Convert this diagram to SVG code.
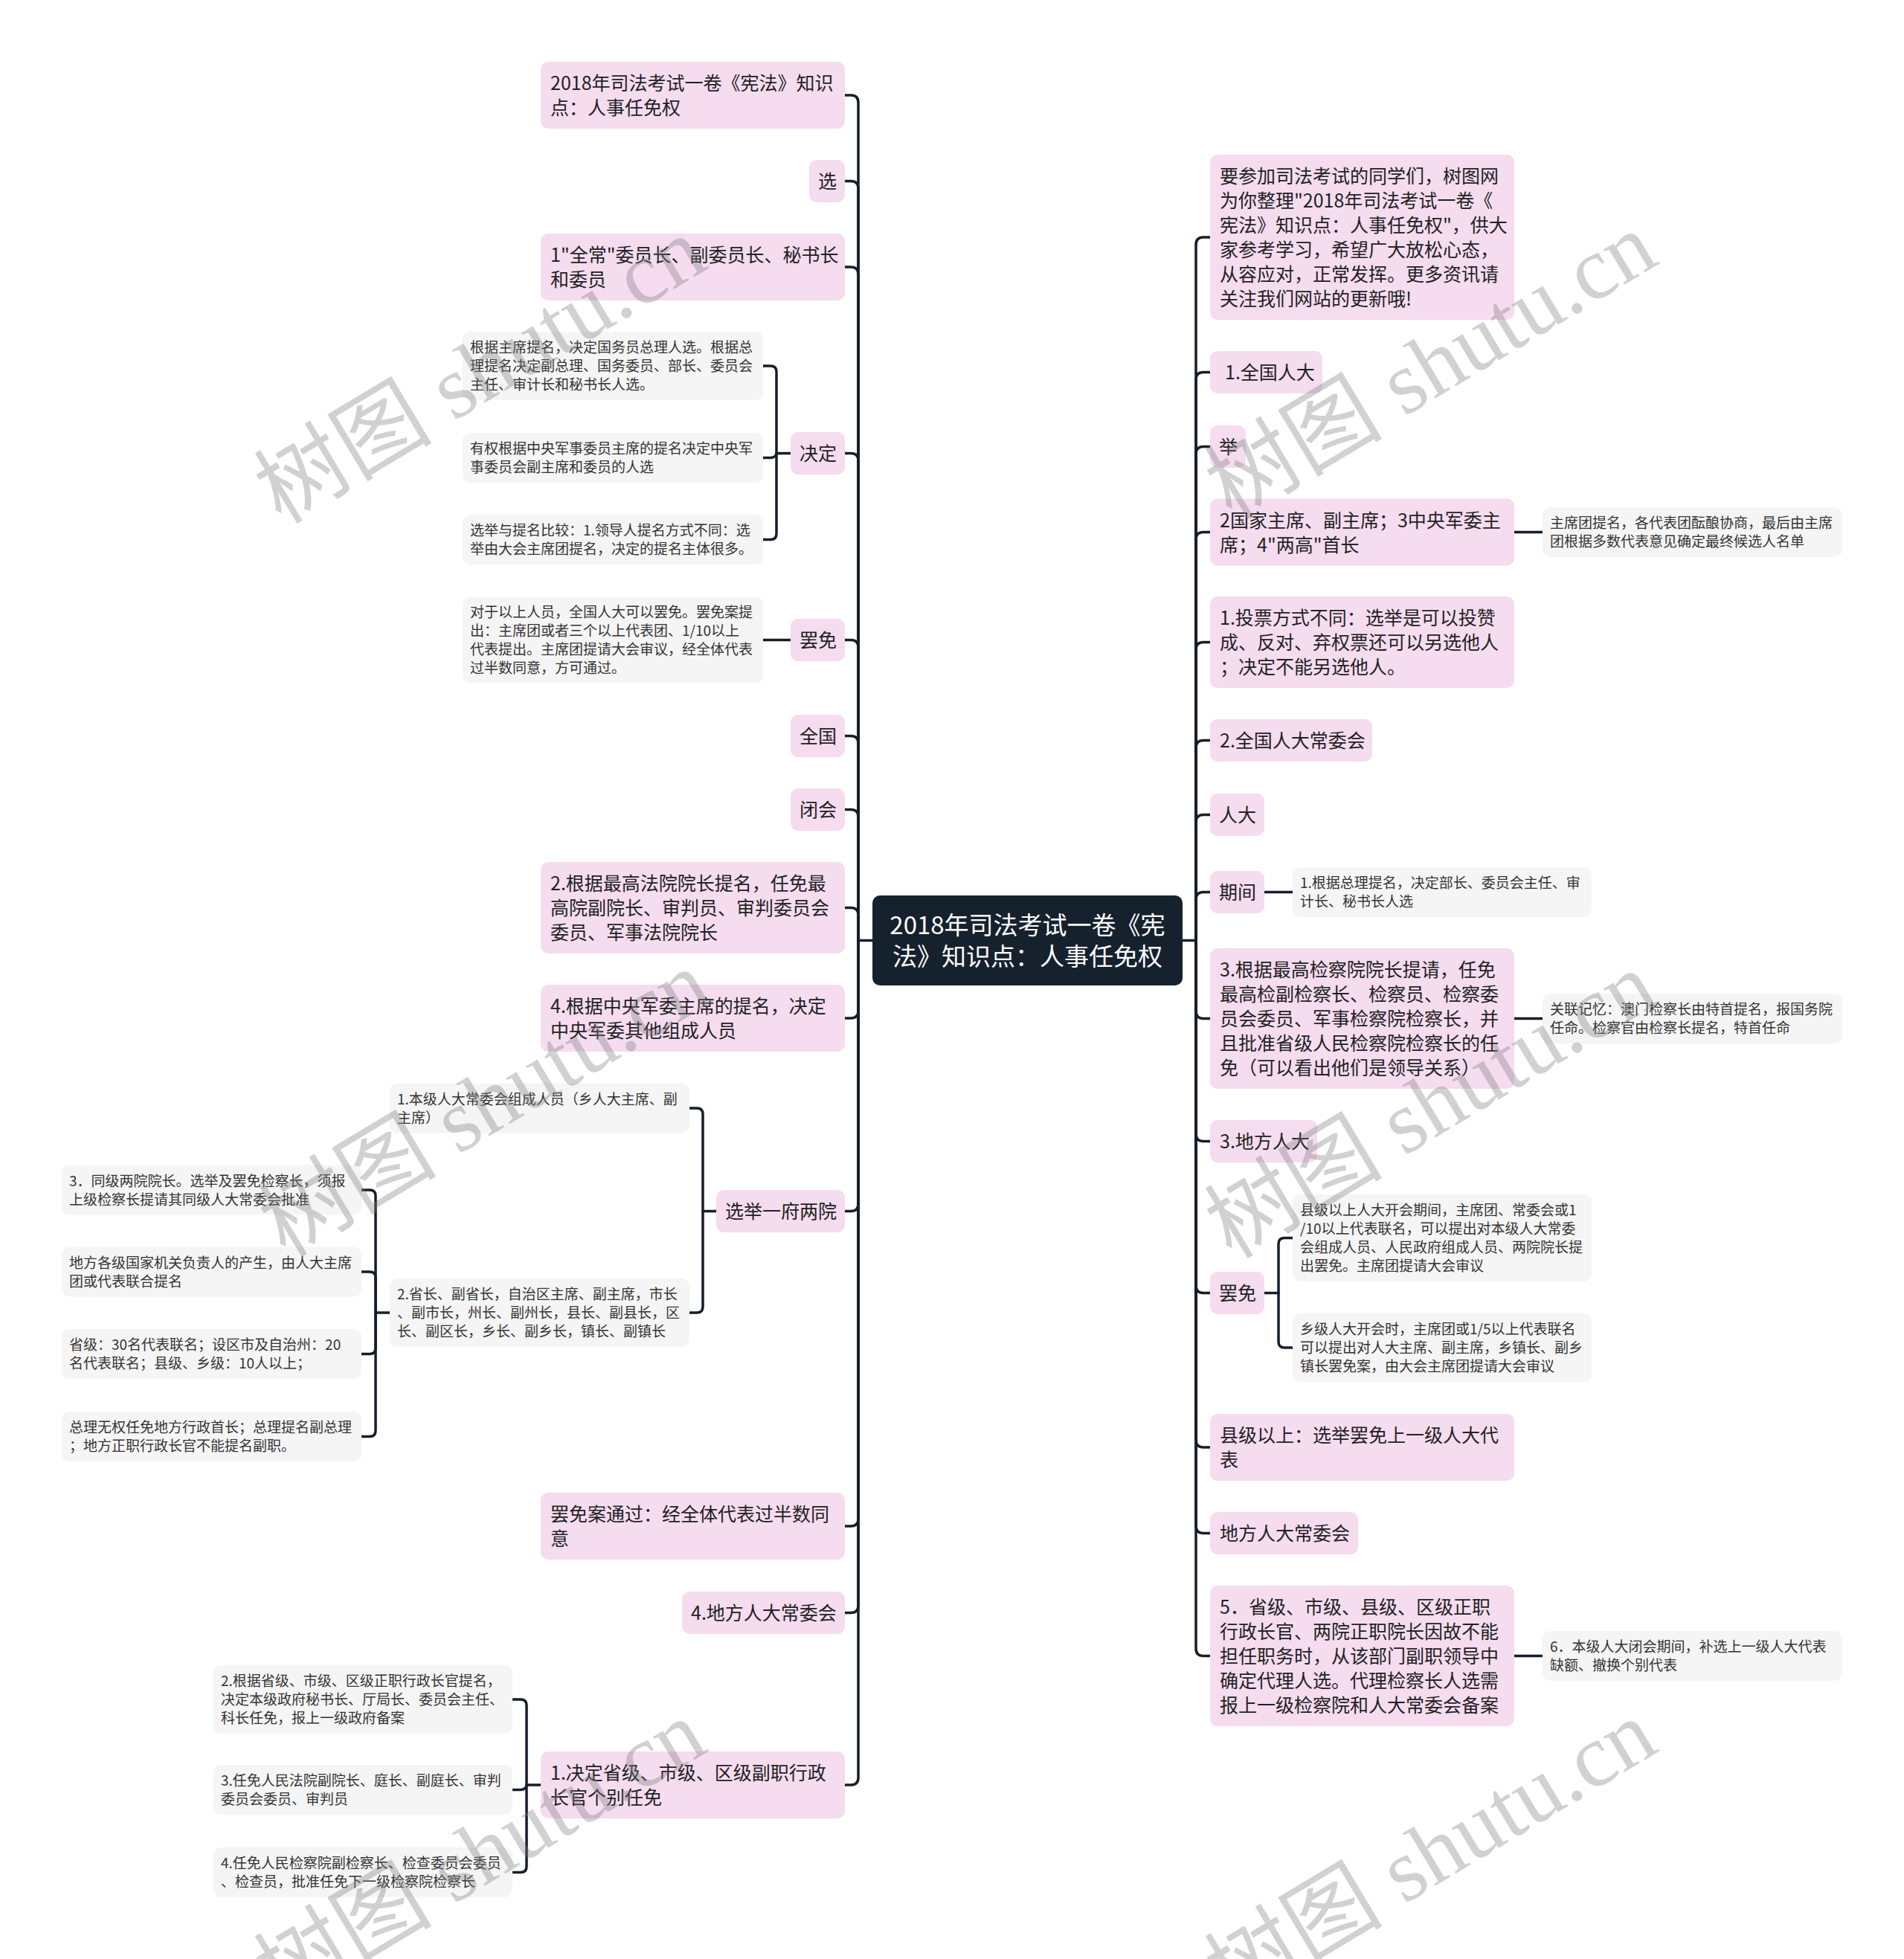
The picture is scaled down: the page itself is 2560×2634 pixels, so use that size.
<svg xmlns="http://www.w3.org/2000/svg" width="2560" height="2634" viewBox="0 0 2560 2634">
<style>
.p{fill:#f5dcef}
.g{fill:#f5f5f5}
.root{fill:#16212e}
.tp{font-family:"Noto Sans CJK SC","Noto Sans",sans-serif;font-size:25px;fill:#222}
.tg{font-family:"Noto Sans CJK SC","Noto Sans",sans-serif;font-size:19px;fill:#333}
.tr{font-family:"Noto Sans CJK SC","Noto Sans",sans-serif;font-size:33px;fill:#ffffff;text-anchor:middle}
.c path{fill:none;stroke:#161e2b;stroke-width:3.5;stroke-linecap:round;stroke-linejoin:round}
.wm{font-family:"Liberation Serif","Noto Sans CJK SC",serif;font-size:120px;fill:#808080;fill-opacity:0.36}
</style>
<rect width="2560" height="2634" fill="#ffffff"/>
<g class="c" id="connectors">
<path d="M1173,1264.5 H1154 V138 Q1154,128 1144,128 H1136"/>
<path d="M1154,1264.5 V253.5 Q1154,243.5 1144,243.5 H1136"/>
<path d="M1154,1264.5 V369 Q1154,359 1144,359 H1136"/>
<path d="M1154,1264.5 V619.5 Q1154,609.5 1144,609.5 H1136"/>
<path d="M1154,1264.5 V870.5 Q1154,860.5 1144,860.5 H1136"/>
<path d="M1154,1264.5 V999.5 Q1154,989.5 1144,989.5 H1136"/>
<path d="M1154,1264.5 V1098.5 Q1154,1088.5 1144,1088.5 H1136"/>
<path d="M1154,1264.5 V1230.5 Q1154,1220.5 1144,1220.5 H1136"/>
<path d="M1154,1264.5 V1359 Q1154,1369 1144,1369 H1136"/>
<path d="M1154,1264.5 V1618.5 Q1154,1628.5 1144,1628.5 H1136"/>
<path d="M1154,1264.5 V2042 Q1154,2052 1144,2052 H1136"/>
<path d="M1154,1264.5 V2158.5 Q1154,2168.5 1144,2168.5 H1136"/>
<path d="M1154,1264.5 V2390 Q1154,2400 1144,2400 H1136"/>
<path d="M1590,1264.5 H1608 V329 Q1608,319 1618,319 H1627"/>
<path d="M1608,1264.5 V510.5 Q1608,500.5 1618,500.5 H1627"/>
<path d="M1608,1264.5 V610.5 Q1608,600.5 1618,600.5 H1627"/>
<path d="M1608,1264.5 V725.5 Q1608,715.5 1618,715.5 H1627"/>
<path d="M1608,1264.5 V873.5 Q1608,863.5 1618,863.5 H1627"/>
<path d="M1608,1264.5 V1005.5 Q1608,995.5 1618,995.5 H1627"/>
<path d="M1608,1264.5 V1105.5 Q1608,1095.5 1618,1095.5 H1627"/>
<path d="M1608,1264.5 V1209.5 Q1608,1199.5 1618,1199.5 H1627"/>
<path d="M1608,1264.5 V1359.5 Q1608,1369.5 1618,1369.5 H1627"/>
<path d="M1608,1264.5 V1524.5 Q1608,1534.5 1618,1534.5 H1627"/>
<path d="M1608,1264.5 V1728.5 Q1608,1738.5 1618,1738.5 H1627"/>
<path d="M1608,1264.5 V1936 Q1608,1946 1618,1946 H1627"/>
<path d="M1608,1264.5 V2051.5 Q1608,2061.5 1618,2061.5 H1627"/>
<path d="M1608,1264.5 V2216.5 Q1608,2226.5 1618,2226.5 H1627"/>
<path d="M1063,609.5 H1044 V500 Q1044,492 1036,492 H1026"/>
<path d="M1044,609.5 C1044,613 1040,615.5 1036,615.5 H1026"/>
<path d="M1044,609.5 V717.5 Q1044,725.5 1036,725.5 H1026"/>
<path d="M1063,860.5 H1026"/>
<path d="M963,1628.5 H945 V1498 Q945,1490 937,1490 H927"/>
<path d="M945,1628.5 V1757 Q945,1765 937,1765 H927"/>
<path d="M524,1765 H505 V1608 Q505,1600 497,1600 H486"/>
<path d="M505,1765 V1718 Q505,1710 497,1710 H486"/>
<path d="M505,1765 V1812.5 Q505,1820.5 497,1820.5 H486"/>
<path d="M505,1765 V1923.5 Q505,1931.5 497,1931.5 H486"/>
<path d="M728,2400 H708 V2293 Q708,2285 700,2285 H689"/>
<path d="M708,2400 C708,2404 704,2406.5 700,2406.5 H689"/>
<path d="M708,2400 V2509.5 Q708,2517.5 700,2517.5 H689"/>
<path d="M2036,715.5 H2074"/>
<path d="M1700,1199.5 H1738"/>
<path d="M2036,1369.5 H2074"/>
<path d="M1700,1738.5 H1719 V1672.5 Q1719,1664.5 1727,1664.5 H1738"/>
<path d="M1719,1738.5 V1804 Q1719,1812 1727,1812 H1738"/>
<path d="M2036,2226.5 H2074"/>
</g>
<g id="root"><rect class="root" x="1173" y="1204" width="417" height="121" rx="10"/><text class="tr"><tspan x="1381.5" y="1256">2018年司法考试一卷《宪</tspan><tspan x="1381.5" y="1298">法》知识点：人事任免权</tspan></text></g>
<g id="L1"><rect class="p" x="727" y="83" width="409" height="90" rx="10"/><text class="tp"><tspan x="740" y="121">2018年司法考试一卷《宪法》知识</tspan><tspan x="740" y="154">点：人事任免权</tspan></text></g>
<g id="L2"><rect class="p" x="1088" y="215" width="48" height="57" rx="10"/><text class="tp" x="1100" y="253">选</text></g>
<g id="L3"><rect class="p" x="727" y="314" width="409" height="90" rx="10"/><text class="tp"><tspan x="740" y="352">1"全常"委员长、副委员长、秘书长</tspan><tspan x="740" y="385">和委员</tspan></text></g>
<g id="L4"><rect class="p" x="1063" y="581" width="73" height="57" rx="10"/><text class="tp" x="1075" y="619">决定</text></g>
<g id="L4a"><rect class="g" x="622" y="446" width="404" height="92" rx="10"/><text class="tg"><tspan x="632" y="474">根据主席提名，决定国务员总理人选。根据总</tspan><tspan x="632" y="499">理提名决定副总理、国务委员、部长、委员会</tspan><tspan x="632" y="524">主任、审计长和秘书长人选。</tspan></text></g>
<g id="L4b"><rect class="g" x="622" y="582" width="404" height="67" rx="10"/><text class="tg"><tspan x="632" y="610">有权根据中央军事委员主席的提名决定中央军</tspan><tspan x="632" y="635">事委员会副主席和委员的人选</tspan></text></g>
<g id="L4c"><rect class="g" x="622" y="692" width="404" height="67" rx="10"/><text class="tg"><tspan x="632" y="720">选举与提名比较：1.领导人提名方式不同：选</tspan><tspan x="632" y="745">举由大会主席团提名，决定的提名主体很多。</tspan></text></g>
<g id="L5"><rect class="p" x="1063" y="832" width="73" height="57" rx="10"/><text class="tp" x="1075" y="870">罢免</text></g>
<g id="L5a"><rect class="g" x="622" y="802.5" width="404" height="116" rx="10"/><text class="tg"><tspan x="632" y="830">对于以上人员，全国人大可以罢免。罢免案提</tspan><tspan x="632" y="855">出：主席团或者三个以上代表团、1/10以上</tspan><tspan x="632" y="880">代表提出。主席团提请大会审议，经全体代表</tspan><tspan x="632" y="905">过半数同意，方可通过。</tspan></text></g>
<g id="L6"><rect class="p" x="1063" y="961" width="73" height="57" rx="10"/><text class="tp" x="1075" y="999">全国</text></g>
<g id="L7"><rect class="p" x="1063" y="1060" width="73" height="57" rx="10"/><text class="tp" x="1075" y="1098">闭会</text></g>
<g id="L8"><rect class="p" x="727" y="1159" width="409" height="123" rx="10"/><text class="tp"><tspan x="740" y="1197">2.根据最高法院院长提名，任免最</tspan><tspan x="740" y="1230">高院副院长、审判员、审判委员会</tspan><tspan x="740" y="1263">委员、军事法院院长</tspan></text></g>
<g id="L9"><rect class="p" x="727" y="1324" width="409" height="90" rx="10"/><text class="tp"><tspan x="740" y="1362">4.根据中央军委主席的提名，决定</tspan><tspan x="740" y="1395">中央军委其他组成人员</tspan></text></g>
<g id="L10"><rect class="p" x="963" y="1600" width="173" height="57" rx="10"/><text class="tp" x="975" y="1638">选举一府两院</text></g>
<g id="L10a"><rect class="g" x="524" y="1456.5" width="403" height="67" rx="10"/><text class="tg"><tspan x="534" y="1484.5">1.本级人大常委会组成人员（乡人大主席、副</tspan><tspan x="534" y="1509.5">主席）</tspan></text></g>
<g id="L10b"><rect class="g" x="524" y="1719" width="403" height="92" rx="10"/><text class="tg"><tspan x="534" y="1747">2.省长、副省长，自治区主席、副主席，市长</tspan><tspan x="534" y="1772">、副市长，州长、副州长，县长、副县长，区</tspan><tspan x="534" y="1797">长、副区长，乡长、副乡长，镇长、副镇长</tspan></text></g>
<g id="L10b1"><rect class="g" x="83" y="1566.5" width="403" height="67" rx="10"/><text class="tg"><tspan x="93" y="1594.5">3．同级两院院长。选举及罢免检察长，须报</tspan><tspan x="93" y="1619.5">上级检察长提请其同级人大常委会批准</tspan></text></g>
<g id="L10b2"><rect class="g" x="83" y="1676.5" width="403" height="67" rx="10"/><text class="tg"><tspan x="93" y="1704.5">地方各级国家机关负责人的产生，由人大主席</tspan><tspan x="93" y="1729.5">团或代表联合提名</tspan></text></g>
<g id="L10b3"><rect class="g" x="83" y="1787" width="403" height="67" rx="10"/><text class="tg"><tspan x="93" y="1815">省级：30名代表联名；设区市及自治州：20</tspan><tspan x="93" y="1840">名代表联名；县级、乡级：10人以上；</tspan></text></g>
<g id="L10b4"><rect class="g" x="83" y="1898" width="403" height="67" rx="10"/><text class="tg"><tspan x="93" y="1926">总理无权任免地方行政首长；总理提名副总理</tspan><tspan x="93" y="1951">；地方正职行政长官不能提名副职。</tspan></text></g>
<g id="L11"><rect class="p" x="727" y="2007" width="409" height="90" rx="10"/><text class="tp"><tspan x="740" y="2045">罢免案通过：经全体代表过半数同</tspan><tspan x="740" y="2078">意</tspan></text></g>
<g id="L12"><rect class="p" x="917" y="2140" width="219" height="57" rx="10"/><text class="tp" x="929" y="2178">4.地方人大常委会</text></g>
<g id="L13"><rect class="p" x="727" y="2355" width="409" height="90" rx="10"/><text class="tp"><tspan x="740" y="2393">1.决定省级、市级、区级副职行政</tspan><tspan x="740" y="2426">长官个别任免</tspan></text></g>
<g id="L13a"><rect class="g" x="287" y="2239" width="402" height="92" rx="10"/><text class="tg"><tspan x="297" y="2267">2.根据省级、市级、区级正职行政长官提名，</tspan><tspan x="297" y="2292">决定本级政府秘书长、厅局长、委员会主任、</tspan><tspan x="297" y="2317">科长任免，报上一级政府备案</tspan></text></g>
<g id="L13b"><rect class="g" x="287" y="2373" width="402" height="67" rx="10"/><text class="tg"><tspan x="297" y="2401">3.任免人民法院副院长、庭长、副庭长、审判</tspan><tspan x="297" y="2426">委员会委员、审判员</tspan></text></g>
<g id="L13c"><rect class="g" x="287" y="2484" width="402" height="67" rx="10"/><text class="tg"><tspan x="297" y="2512">4.任免人民检察院副检察长、检查委员会委员</tspan><tspan x="297" y="2537">、检查员，批准任免下一级检察院检察长</tspan></text></g>
<g id="R1"><rect class="p" x="1627" y="208" width="409" height="222" rx="10"/><text class="tp"><tspan x="1640" y="246">要参加司法考试的同学们，树图网</tspan><tspan x="1640" y="279">为你整理"2018年司法考试一卷《</tspan><tspan x="1640" y="312">宪法》知识点：人事任免权"，供大</tspan><tspan x="1640" y="345">家参考学习，希望广大放松心态，</tspan><tspan x="1640" y="378">从容应对，正常发挥。更多资讯请</tspan><tspan x="1640" y="411">关注我们网站的更新哦!</tspan></text></g>
<g id="R2"><rect class="p" x="1627" y="472" width="151" height="57" rx="10"/><text class="tp" x="1647" y="510">1.全国人大</text></g>
<g id="R3"><rect class="p" x="1627" y="572" width="48" height="57" rx="10"/><text class="tp" x="1639" y="610">举</text></g>
<g id="R4"><rect class="p" x="1627" y="670.5" width="409" height="90" rx="10"/><text class="tp"><tspan x="1640" y="708.5">2国家主席、副主席；3中央军委主</tspan><tspan x="1640" y="741.5">席；4"两高"首长</tspan></text></g>
<g id="R4a"><rect class="g" x="2074" y="682" width="403" height="67" rx="10"/><text class="tg"><tspan x="2084" y="710">主席团提名，各代表团酝酿协商，最后由主席</tspan><tspan x="2084" y="735">团根据多数代表意见确定最终候选人名单</tspan></text></g>
<g id="R5"><rect class="p" x="1627" y="802" width="409" height="123" rx="10"/><text class="tp"><tspan x="1640" y="840">1.投票方式不同：选举是可以投赞</tspan><tspan x="1640" y="873">成、反对、弃权票还可以另选他人</tspan><tspan x="1640" y="906">；决定不能另选他人。</tspan></text></g>
<g id="R6"><rect class="p" x="1627" y="967" width="218" height="57" rx="10"/><text class="tp" x="1640" y="1005">2.全国人大常委会</text></g>
<g id="R7"><rect class="p" x="1627" y="1067" width="73" height="57" rx="10"/><text class="tp" x="1639" y="1105">人大</text></g>
<g id="R8"><rect class="p" x="1627" y="1171" width="73" height="57" rx="10"/><text class="tp" x="1639" y="1209">期间</text></g>
<g id="R8a"><rect class="g" x="1738" y="1166" width="402" height="67" rx="10"/><text class="tg"><tspan x="1748" y="1194">1.根据总理提名，决定部长、委员会主任、审</tspan><tspan x="1748" y="1219">计长、秘书长人选</tspan></text></g>
<g id="R9"><rect class="p" x="1627" y="1275" width="409" height="189" rx="10"/><text class="tp"><tspan x="1640" y="1313">3.根据最高检察院院长提请，任免</tspan><tspan x="1640" y="1346">最高检副检察长、检察员、检察委</tspan><tspan x="1640" y="1379">员会委员、军事检察院检察长，并</tspan><tspan x="1640" y="1412">且批准省级人民检察院检察长的任</tspan><tspan x="1640" y="1445">免（可以看出他们是领导关系）</tspan></text></g>
<g id="R9a"><rect class="g" x="2074" y="1336" width="403" height="67" rx="10"/><text class="tg"><tspan x="2084" y="1364">关联记忆：澳门检察长由特首提名，报国务院</tspan><tspan x="2084" y="1389">任命。检察官由检察长提名，特首任命</tspan></text></g>
<g id="R10"><rect class="p" x="1627" y="1506" width="144" height="57" rx="10"/><text class="tp" x="1640" y="1544">3.地方人大</text></g>
<g id="R11"><rect class="p" x="1627" y="1710" width="73" height="57" rx="10"/><text class="tp" x="1639" y="1748">罢免</text></g>
<g id="R11a"><rect class="g" x="1738" y="1606" width="402" height="117" rx="10"/><text class="tg"><tspan x="1748" y="1634">县级以上人大开会期间，主席团、常委会或1</tspan><tspan x="1748" y="1659">/10以上代表联名，可以提出对本级人大常委</tspan><tspan x="1748" y="1684">会组成人员、人民政府组成人员、两院院长提</tspan><tspan x="1748" y="1709">出罢免。主席团提请大会审议</tspan></text></g>
<g id="R11b"><rect class="g" x="1738" y="1766" width="402" height="92" rx="10"/><text class="tg"><tspan x="1748" y="1794">乡级人大开会时，主席团或1/5以上代表联名</tspan><tspan x="1748" y="1819">可以提出对人大主席、副主席，乡镇长、副乡</tspan><tspan x="1748" y="1844">镇长罢免案，由大会主席团提请大会审议</tspan></text></g>
<g id="R12"><rect class="p" x="1627" y="1901" width="409" height="90" rx="10"/><text class="tp"><tspan x="1640" y="1939">县级以上：选举罢免上一级人大代</tspan><tspan x="1640" y="1972">表</tspan></text></g>
<g id="R13"><rect class="p" x="1627" y="2033" width="199" height="57" rx="10"/><text class="tp" x="1640" y="2071">地方人大常委会</text></g>
<g id="R14"><rect class="p" x="1627" y="2132" width="409" height="189" rx="10"/><text class="tp"><tspan x="1640" y="2170">5．省级、市级、县级、区级正职</tspan><tspan x="1640" y="2203">行政长官、两院正职院长因故不能</tspan><tspan x="1640" y="2236">担任职务时，从该部门副职领导中</tspan><tspan x="1640" y="2269">确定代理人选。代理检察长人选需</tspan><tspan x="1640" y="2302">报上一级检察院和人大常委会备案</tspan></text></g>
<g id="R14a"><rect class="g" x="2074" y="2193" width="403" height="67" rx="10"/><text class="tg"><tspan x="2084" y="2221">6．本级人大闭会期间，补选上一级人大代表</tspan><tspan x="2084" y="2246">缺额、撤换个别代表</tspan></text></g>
<g id="watermarks">
<text class="wm" transform="translate(378,706) rotate(-31)">树图 shutu.cn</text>
<text class="wm" transform="translate(1656,700) rotate(-31)">树图 shutu.cn</text>
<text class="wm" transform="translate(384,1692) rotate(-31)">树图 shutu.cn</text>
<text class="wm" transform="translate(1656,1694) rotate(-31)">树图 shutu.cn</text>
<text class="wm" transform="translate(378,2700) rotate(-31)">树图 shutu.cn</text>
<text class="wm" transform="translate(1656,2700) rotate(-31)">树图 shutu.cn</text>
</g>
</svg>
